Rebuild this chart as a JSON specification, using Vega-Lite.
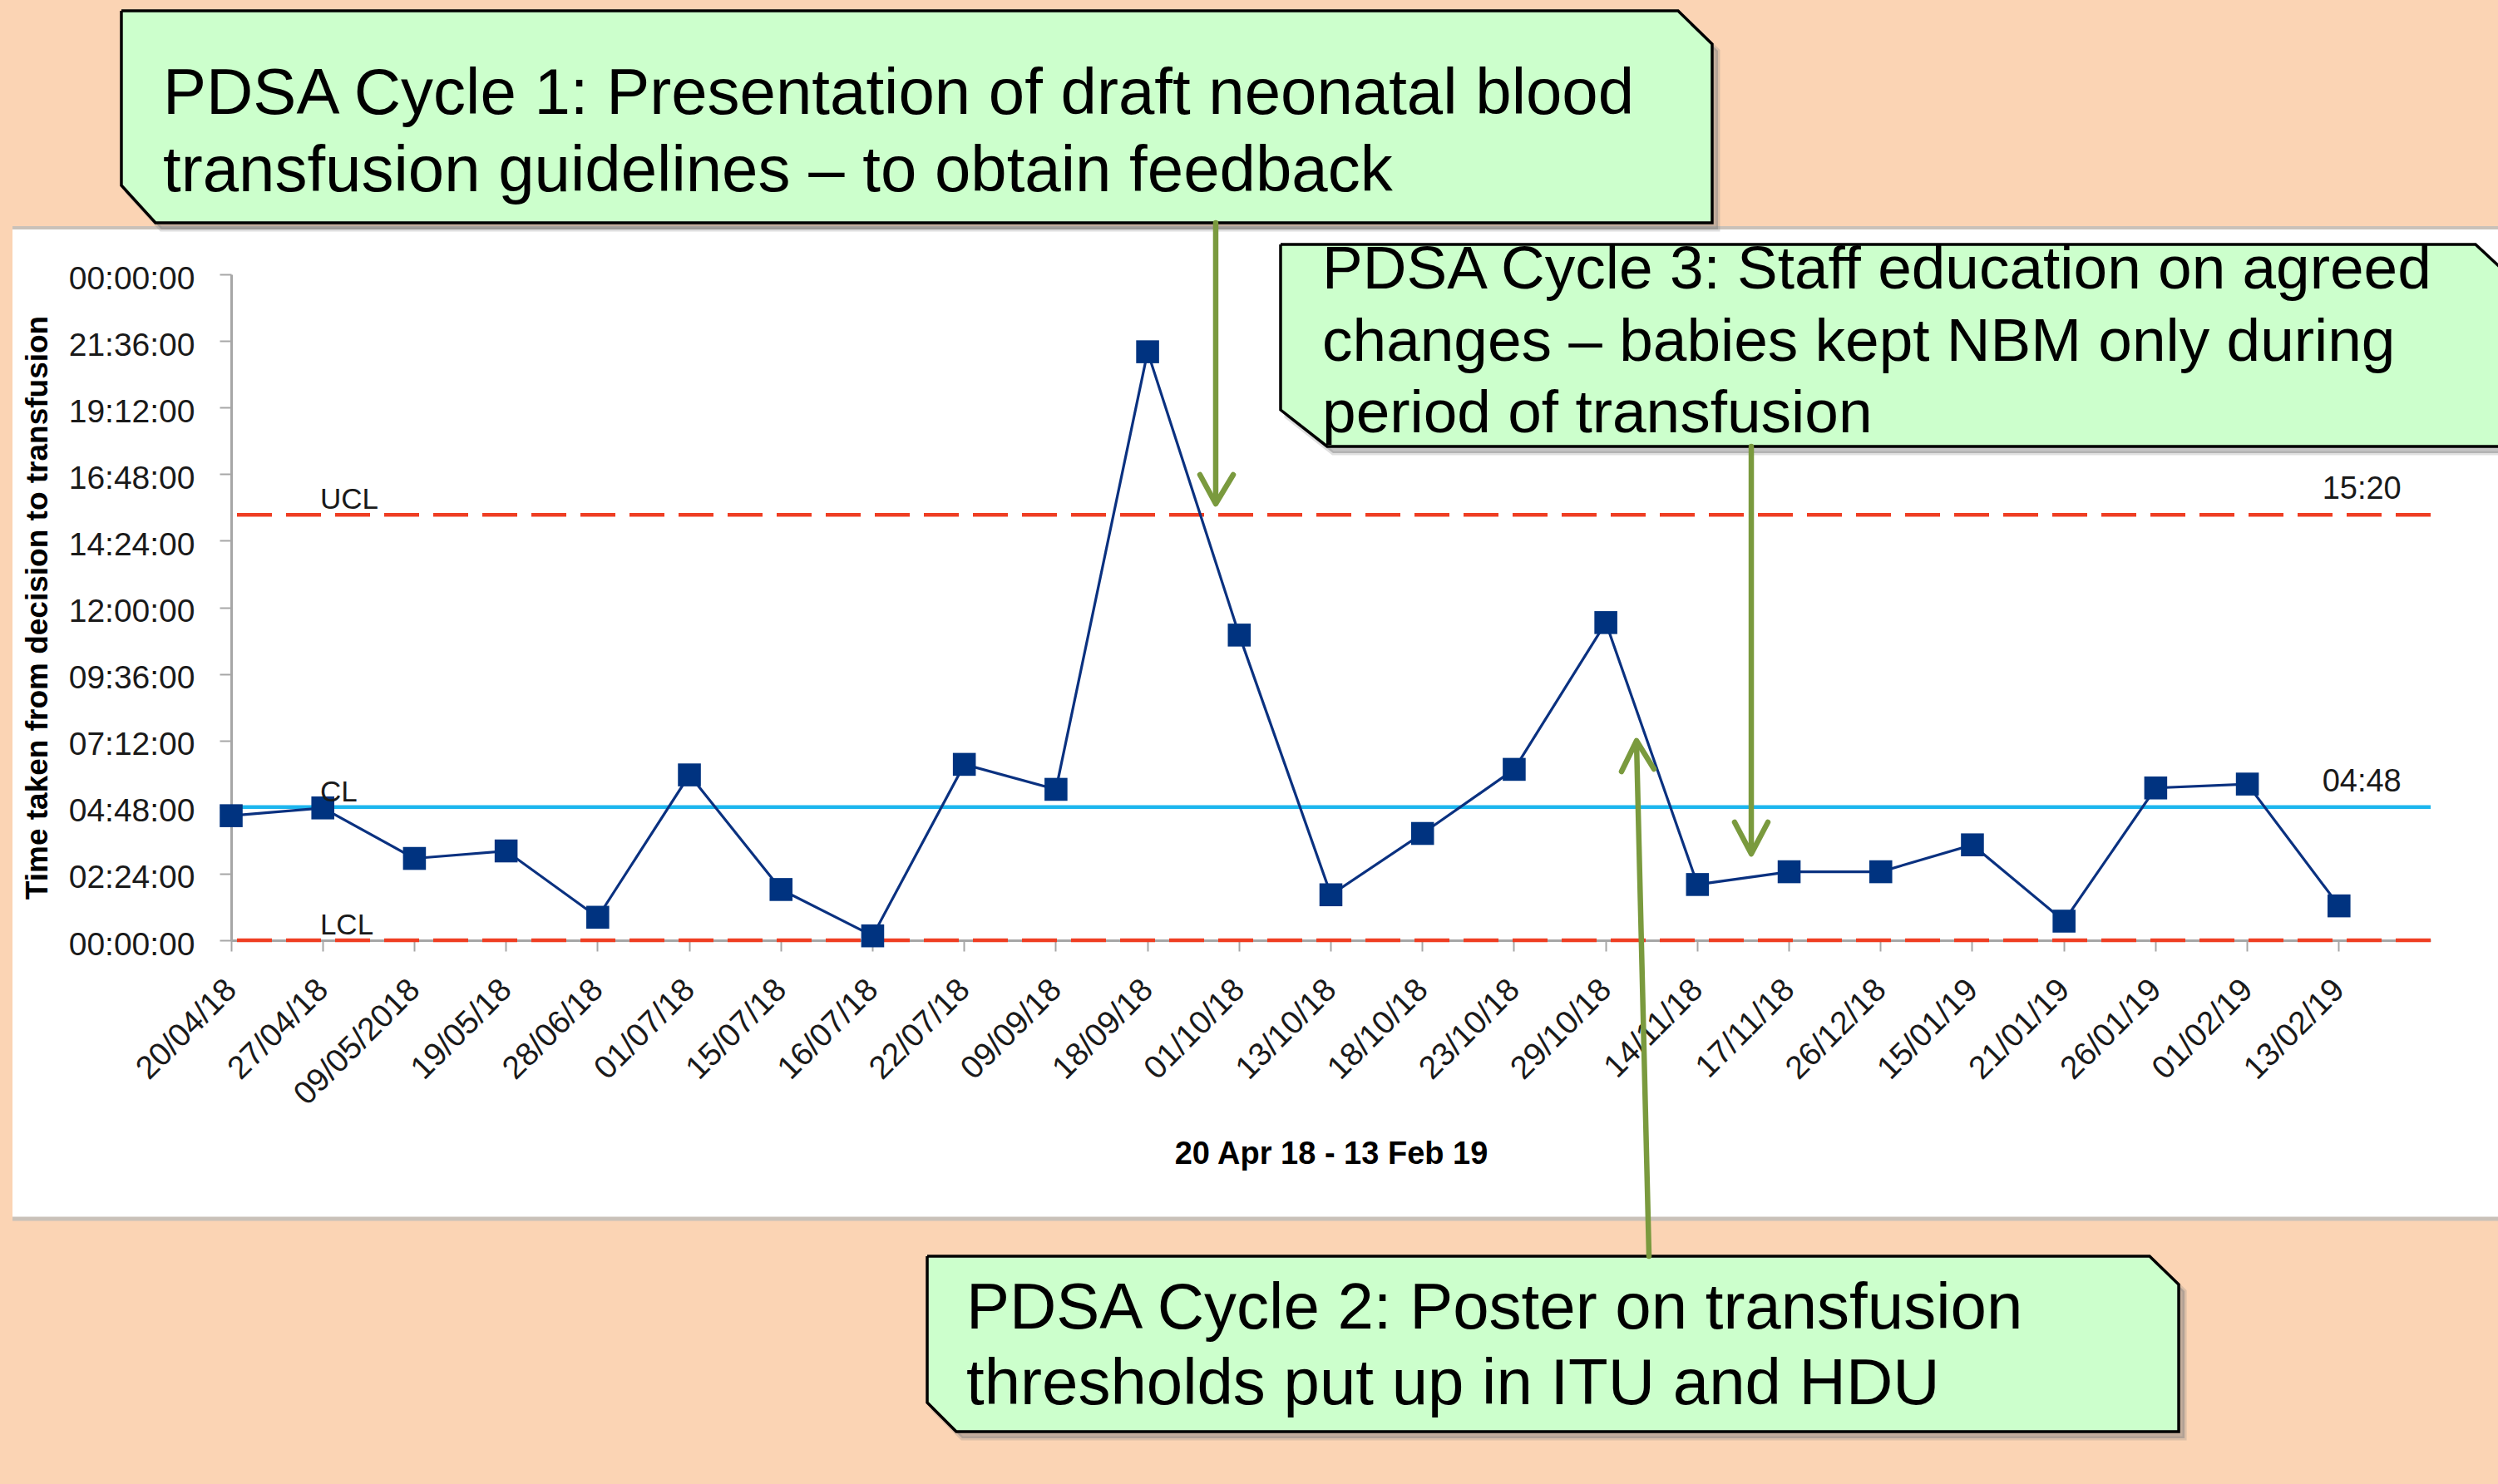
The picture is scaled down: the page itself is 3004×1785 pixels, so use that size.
{
  "$schema": "https://vega.github.io/schema/vega-lite/v6.json",
  "width": 2645,
  "height": 801,
  "autosize": {"type": "none"},
  "padding": {"left": 278, "top": 330, "right": 81, "bottom": 654},
  "background": "#FFFFFF",
  "config": {"view": {"stroke": null}, "font": "Liberation Sans", "axis": {"grid": false}},
  "datasets": {
    "series": [
      {"date": "20/04/18", "hours": 4.49},
      {"date": "27/04/18", "hours": 4.77},
      {"date": "09/05/2018", "hours": 2.95},
      {"date": "19/05/18", "hours": 3.22},
      {"date": "28/06/18", "hours": 0.83},
      {"date": "01/07/18", "hours": 5.96},
      {"date": "15/07/18", "hours": 1.83},
      {"date": "16/07/18", "hours": 0.16},
      {"date": "22/07/18", "hours": 6.34},
      {"date": "09/09/18", "hours": 5.44},
      {"date": "18/09/18", "hours": 21.21},
      {"date": "01/10/18", "hours": 11.0},
      {"date": "13/10/18", "hours": 1.64},
      {"date": "18/10/18", "hours": 3.85},
      {"date": "23/10/18", "hours": 6.16},
      {"date": "29/10/18", "hours": 11.45},
      {"date": "14/11/18", "hours": 2.01},
      {"date": "17/11/18", "hours": 2.47},
      {"date": "26/12/18", "hours": 2.47},
      {"date": "15/01/19", "hours": 3.44},
      {"date": "21/01/19", "hours": 0.69},
      {"date": "26/01/19", "hours": 5.49},
      {"date": "01/02/19", "hours": 5.63},
      {"date": "13/02/19", "hours": 1.24}
    ],
    "limits": [
      {"limit": "UCL", "hours": 15.333, "value_label": "15:20"},
      {"limit": "CL", "hours": 4.8, "value_label": "04:48"},
      {"limit": "LCL", "hours": 0, "value_label": ""}
    ],
    "callout_shapes": [
      {"c": 1, "i": 0, "u": -1.198, "h": 33.498},
      {"c": 1, "i": 1, "u": 15.788, "h": 33.498},
      {"c": 1, "i": 2, "u": 16.16, "h": 32.3},
      {"c": 1, "i": 3, "u": 16.16, "h": 25.858},
      {"c": 1, "i": 4, "u": -0.826, "h": 25.858},
      {"c": 1, "i": 5, "u": -1.198, "h": 27.206},
      {"c": 1, "i": 6, "u": -1.198, "h": 33.498},
      {"c": 2, "i": 0, "u": 7.595, "h": -11.386},
      {"c": 2, "i": 1, "u": 20.933, "h": -11.386},
      {"c": 2, "i": 2, "u": 21.251, "h": -12.404},
      {"c": 2, "i": 3, "u": 21.251, "h": -17.708},
      {"c": 2, "i": 4, "u": 7.912, "h": -17.708},
      {"c": 2, "i": 5, "u": 7.595, "h": -16.659},
      {"c": 2, "i": 6, "u": 7.595, "h": -11.386},
      {"c": 3, "i": 0, "u": 11.451, "h": 25.079},
      {"c": 3, "i": 1, "u": 24.49, "h": 25.079},
      {"c": 3, "i": 2, "u": 24.88, "h": 23.88},
      {"c": 3, "i": 3, "u": 24.88, "h": 17.798},
      {"c": 3, "i": 4, "u": 11.959, "h": 17.798},
      {"c": 3, "i": 5, "u": 11.451, "h": 19.116},
      {"c": 3, "i": 6, "u": 11.451, "h": 25.079}
    ],
    "arrows": [
      {"seg": "a1s", "i": 0, "u": 10.743, "h": 25.858},
      {"seg": "a1s", "i": 1, "u": 10.743, "h": 15.85},
      {"seg": "a1h", "i": 0, "u": 10.571, "h": 16.779},
      {"seg": "a1h", "i": 1, "u": 10.743, "h": 15.73},
      {"seg": "a1h", "i": 2, "u": 10.934, "h": 16.779},
      {"seg": "a2s", "i": 0, "u": 15.471, "h": -11.386},
      {"seg": "a2s", "i": 1, "u": 15.335, "h": 7.1},
      {"seg": "a2h", "i": 0, "u": 15.171, "h": 6.082},
      {"seg": "a2h", "i": 1, "u": 15.335, "h": 7.191},
      {"seg": "a2h", "i": 2, "u": 15.525, "h": 6.172},
      {"seg": "a3s", "i": 0, "u": 16.587, "h": 17.798},
      {"seg": "a3s", "i": 1, "u": 16.587, "h": 3.25},
      {"seg": "a3h", "i": 0, "u": 16.405, "h": 4.255},
      {"seg": "a3h", "i": 1, "u": 16.587, "h": 3.116},
      {"seg": "a3h", "i": 2, "u": 16.768, "h": 4.255}
    ]
  },
  "layer": [
    {
      "data": {"values": [{}]},
      "mark": {"type": "rect", "fill": "#FBD4B4"},
      "encoding": {
        "x": {"datum": -3, "type": "quantitative", "scale": {"domain": [0, 24], "nice": false, "zero": false}, "axis": null},
        "x2": {"datum": 26},
        "y": {"datum": 25.68, "type": "quantitative", "scale": {"domain": [0, 24], "nice": false, "zero": false}, "axis": null},
        "y2": {"datum": 35}
      }
    },
    {
      "data": {"values": [{}]},
      "mark": {"type": "rect", "fill": "#FBD4B4"},
      "encoding": {
        "x": {"datum": -3, "type": "quantitative", "scale": {"domain": [0, 24], "nice": false, "zero": false}, "axis": null},
        "x2": {"datum": 26},
        "y": {"datum": -10.04, "type": "quantitative", "scale": {"domain": [0, 24], "nice": false, "zero": false}, "axis": null},
        "y2": {"datum": -21}
      }
    },
    {
      "data": {"values": [{}]},
      "mark": {"type": "rect", "fill": "#FBD4B4"},
      "encoding": {
        "x": {"datum": -3, "type": "quantitative", "scale": {"domain": [0, 24], "nice": false, "zero": false}, "axis": null},
        "x2": {"datum": -2.386},
        "y": {"datum": -10.04, "type": "quantitative", "scale": {"domain": [0, 24], "nice": false, "zero": false}, "axis": null},
        "y2": {"datum": 25.68}
      }
    },
    {
      "data": {"values": [{}]},
      "mark": {"type": "rule", "stroke": "#C9C1B9", "strokeWidth": 5},
      "encoding": {
        "x": {"datum": -2.386, "type": "quantitative", "scale": {"domain": [0, 24], "nice": false, "zero": false}, "axis": null},
        "x2": {"datum": 26},
        "y": {"datum": -10.04, "type": "quantitative", "scale": {"domain": [0, 24], "nice": false, "zero": false}, "axis": null}
      }
    },
    {
      "data": {"values": [{}]},
      "mark": {"type": "rule", "stroke": "#C9C1B9", "strokeWidth": 4},
      "encoding": {
        "x": {"datum": -2.386, "type": "quantitative", "scale": {"domain": [0, 24], "nice": false, "zero": false}, "axis": null},
        "x2": {"datum": 26},
        "y": {"datum": 25.68, "type": "quantitative", "scale": {"domain": [0, 24], "nice": false, "zero": false}, "axis": null}
      }
    },
    {
      "data": {"name": "limits"},
      "mark": {"type": "rule", "strokeWidth": 4.5},
      "encoding": {
        "y": {"field": "hours", "type": "quantitative", "scale": {"domain": [0, 24], "nice": false, "zero": false}, "axis": null},
        "color": {"field": "limit", "type": "nominal", "scale": {"domain": ["UCL", "CL", "LCL"], "range": ["#EF3E23", "#1DB6EE", "#EF3E23"]}, "legend": null},
        "strokeDash": {"field": "limit", "type": "nominal", "scale": {"domain": ["UCL", "CL", "LCL"], "range": [[42, 17], [1, 0], [42, 17]]}, "legend": null}
      }
    },
    {
      "data": {"name": "series"},
      "encoding": {
        "x": {
          "field": "date", "type": "ordinal", "sort": null, "bandPosition": 0,
          "scale": {"type": "band", "paddingInner": 0, "paddingOuter": 0},
          "axis": {
            "title": "20 Apr 18 - 13 Feb 19",
            "bandPosition": 0,
            "labelAngle": -45, "labelAlign": "right", "labelBaseline": "middle",
            "labelOffset": -55, "labelLimit": 0,
            "labelFontSize": 39, "labelColor": "#1A1A1A", "labelPadding": 40, "labelOverlap": false,
            "tickSize": 13, "tickWidth": 2, "tickColor": "#A6A6A6",
            "domainColor": "#A6A6A6", "domainWidth": 3,
            "titleFontSize": 38, "titleFontWeight": "bold", "titleColor": "#000000", "titlePadding": 38
          }
        },
        "y": {
          "field": "hours", "type": "quantitative",
          "scale": {"domain": [0, 24], "nice": false, "zero": false},
          "axis": {
            "title": "Time taken from decision to transfusion",
            "values": [0, 2.4, 4.8, 7.2, 9.6, 12, 14.4, 16.8, 19.2, 21.6, 24],
            "labelExpr": "pad(''+(floor(round(datum.value*60)/60)%24), 2, '0', 'left') + ':' + pad(''+(round(datum.value*60)%60), 2, '0', 'left') + ':00'",
            "labelFontSize": 39, "labelColor": "#1A1A1A", "labelPadding": 30, "labelOffset": 5,
            "tickSize": 14, "tickWidth": 2, "tickColor": "#A6A6A6",
            "domainColor": "#A6A6A6", "domainWidth": 3,
            "titleFontSize": 37, "titleFontWeight": "bold", "titleColor": "#000000", "titlePadding": 18
          }
        }
      },
      "layer": [
        {"mark": {"type": "line", "color": "#0A3180", "strokeWidth": 3.2}},
        {"mark": {"type": "point", "shape": "square", "filled": true, "size": 760, "color": "#003380", "opacity": 1}}
      ]
    },
    {
      "data": {"name": "limits"},
      "mark": {"type": "text", "align": "left", "baseline": "alphabetic", "dy": -7, "fontSize": 35, "color": "#1A1A1A"},
      "encoding": {
        "x": {"datum": 0.97, "type": "quantitative", "scale": {"domain": [0, 24], "nice": false, "zero": false}, "axis": null},
        "y": {"field": "hours", "type": "quantitative", "scale": {"domain": [0, 24], "nice": false, "zero": false}, "axis": null},
        "text": {"field": "limit"}
      }
    },
    {
      "data": {"name": "limits"},
      "transform": [{"filter": "datum.value_label != ''"}],
      "mark": {"type": "text", "align": "right", "baseline": "alphabetic", "dy": -19, "fontSize": 38, "color": "#1A1A1A"},
      "encoding": {
        "x": {"datum": 23.68, "type": "quantitative", "scale": {"domain": [0, 24], "nice": false, "zero": false}, "axis": null},
        "y": {"field": "hours", "type": "quantitative", "scale": {"domain": [0, 24], "nice": false, "zero": false}, "axis": null},
        "text": {"field": "value_label"}
      }
    },
    {
      "data": {"name": "callout_shapes"},
      "encoding": {
        "x": {"field": "u", "type": "quantitative", "scale": {"domain": [0, 24], "nice": false, "zero": false}, "axis": null},
        "y": {"field": "h", "type": "quantitative", "scale": {"domain": [0, 24], "nice": false, "zero": false}, "axis": null},
        "detail": {"field": "c", "type": "nominal"},
        "order": {"field": "i", "type": "quantitative"}
      },
      "layer": [
        {"mark": {"type": "line", "fill": "#7F7F7F", "fillOpacity": 0.45, "stroke": "#7F7F7F", "strokeOpacity": 0.25, "strokeWidth": 5, "xOffset": 7, "yOffset": 8}},
        {"mark": {"type": "line", "fill": "#CCFFCC", "stroke": "#000000", "strokeWidth": 3.5, "strokeJoin": "miter"}}
      ]
    },
    {
      "data": {"values": [{}]},
      "mark": {"type": "text", "align": "left", "baseline": "alphabetic", "fontSize": 78, "lineHeight": 93, "color": "#000000"},
      "encoding": {
        "x": {"datum": -0.744, "type": "quantitative", "scale": {"domain": [0, 24], "nice": false, "zero": false}, "axis": null},
        "y": {"datum": 29.78, "type": "quantitative", "scale": {"domain": [0, 24], "nice": false, "zero": false}, "axis": null},
        "text": {"value": ["PDSA Cycle 1: Presentation of draft neonatal blood", "transfusion guidelines – to obtain feedback"]}
      }
    },
    {
      "data": {"values": [{}]},
      "mark": {"type": "text", "align": "left", "baseline": "alphabetic", "fontSize": 78, "lineHeight": 91, "color": "#000000"},
      "encoding": {
        "x": {"datum": 8.021, "type": "quantitative", "scale": {"domain": [0, 24], "nice": false, "zero": false}, "axis": null},
        "y": {"datum": -13.993, "type": "quantitative", "scale": {"domain": [0, 24], "nice": false, "zero": false}, "axis": null},
        "text": {"value": ["PDSA Cycle 2: Poster on transfusion", "thresholds put up in ITU and HDU"]}
      }
    },
    {
      "data": {"values": [{}]},
      "mark": {"type": "text", "align": "left", "baseline": "alphabetic", "fontSize": 73, "lineHeight": 86.5, "color": "#000000"},
      "encoding": {
        "x": {"datum": 11.905, "type": "quantitative", "scale": {"domain": [0, 24], "nice": false, "zero": false}, "axis": null},
        "y": {"datum": 23.49, "type": "quantitative", "scale": {"domain": [0, 24], "nice": false, "zero": false}, "axis": null},
        "text": {"value": ["PDSA Cycle 3: Staff education on agreed", "changes – babies kept NBM only during", "period of transfusion"]}
      }
    },
    {
      "data": {"name": "arrows"},
      "mark": {"type": "line", "stroke": "#7A9A3E", "strokeWidth": 6.5, "strokeCap": "round", "strokeJoin": "round"},
      "encoding": {
        "x": {"field": "u", "type": "quantitative", "scale": {"domain": [0, 24], "nice": false, "zero": false}, "axis": null},
        "y": {"field": "h", "type": "quantitative", "scale": {"domain": [0, 24], "nice": false, "zero": false}, "axis": null},
        "detail": {"field": "seg", "type": "nominal"},
        "order": {"field": "i", "type": "quantitative"}
      }
    }
  ],
  "resolve": {"scale": {"x": "independent", "y": "independent"}}
}
